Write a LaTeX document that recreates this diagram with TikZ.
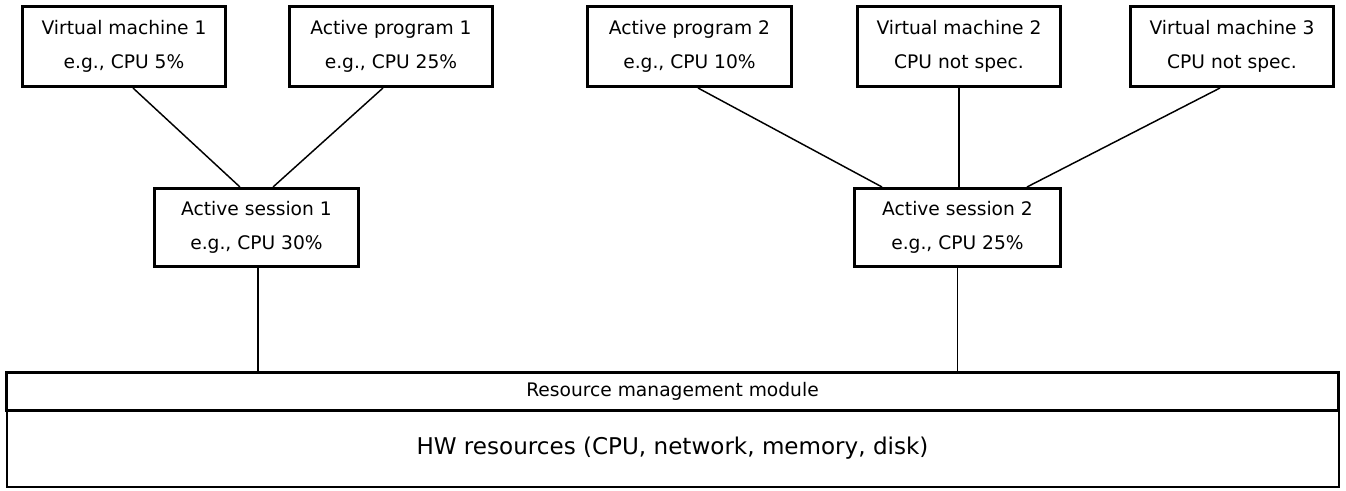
\documentclass[tikz,border=0pt]{standalone}
\usepackage{fontspec}
\setmainfont{DejaVu Sans}

\begin{document}
\begin{tikzpicture}[-,x=0.75pt,y=-0.75pt,
        main node/.style={rectangle,draw,line width=2.25pt,inner sep=0pt,minimum width=152.5pt,minimum height=60pt,align=center,font=\fontsize{14}{25.5}\selectfont},
        session node/.style={main node,minimum height=58.5pt},
        layer node/.style={rectangle,draw,inner sep=0pt,minimum width=999pt,align=center},
        link/.style={line width=1.1pt}]
            \useasboundingbox (0,0) rectangle (1346,490);

            \node[main node] (VM1) at (124,46.5) {Virtual machine 1\\e.g., CPU 5\%};
            \node[main node] (AP1) at (391,46.5) {Active program 1\\e.g., CPU 25\%};
            \node[main node] (AP2) at (689.5,46.5) {Active program 2\\e.g., CPU 10\%};
            \node[main node] (VM2) at (959,46.5) {Virtual machine 2\\CPU not spec.};
            \node[main node] (VM3) at (1232,46.5) {Virtual machine 3\\CPU not spec.};

            \node[session node] (AS1) at (256.5,227.5) {Active session 1\\e.g., CPU 30\%};
            \node[session node,minimum width=154.5pt] (AS2) at (957.5,227.5) {Active session 2\\e.g., CPU 25\%};

            \node[layer node,line width=2.25pt,minimum height=28.5pt,font=\fontsize{14}{16}\selectfont] (RMM) at (672.5,391) {Resource management module};
            \node[layer node,line width=1.5pt,minimum height=57.75pt,font=\fontsize{17.3}{20}\selectfont] (HW) at (672.5,448.5) {HW resources (CPU, network, memory, disk)};

            \path[link]
                ([xshift=6.75pt]VM1.south) edge ([xshift=-12.4pt]AS1.north)
                ([xshift=-6pt]AP1.south) edge ([xshift=12.4pt]AS1.north)
                ([xshift=6.4pt]AP2.south) edge ([xshift=-56.6pt]AS2.north)
                (VM2.south) edge (VM2.south |- AS2.north)
                ([xshift=-9pt]VM3.south) edge ([xshift=52.1pt]AS2.north)
                ([xshift=1.1pt]AS1.south) edge ([xshift=1.1pt]AS1.south |- RMM.north)
                (AS2.south) edge (AS2.south |- RMM.north)
                ;
        \end{tikzpicture}
\end{document}
